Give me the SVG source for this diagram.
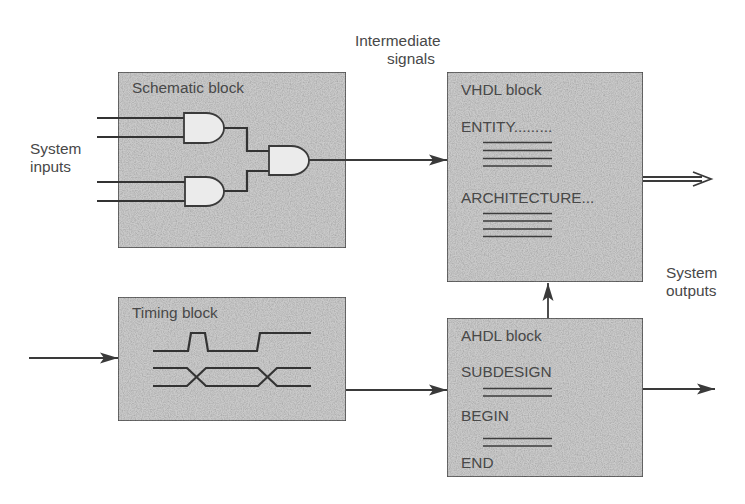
<svg xmlns="http://www.w3.org/2000/svg" width="745" height="504" viewBox="0 0 745 504">
<defs>
<filter id="grain" x="0" y="0" width="100%" height="100%"><feTurbulence type="fractalNoise" baseFrequency="0.85" numOctaves="2" seed="4"/><feColorMatrix type="matrix" values="0 0 0 0 0  0 0 0 0 0  0 0 0 0 0  0.6 0 0 0 -0.2"/><feComposite in2="SourceGraphic" operator="in" result="n"/><feMerge><feMergeNode in="SourceGraphic"/><feMergeNode in="n"/></feMerge></filter>
<marker id="ah" markerUnits="userSpaceOnUse" markerWidth="20" markerHeight="14" refX="18" refY="6" orient="auto"><path d="M0 0.500L18 6L0 11.500L4 6Z" fill="#3a3a3a"/></marker>
</defs>
<style>
text{font-family:"Liberation Sans",Arial,sans-serif;font-size:15.400px;fill:#484848}
.blk{fill:#cacaca;stroke:#505050;stroke-width:1.6;filter:url(#grain)}
.w{fill:none;stroke:#333;stroke-width:2.200}
.t{fill:none;stroke:#3d3d3d;stroke-width:1.500}
.g{fill:#ebebeb;stroke:#3a3a3a;stroke-width:1.800}
.c{fill:none;stroke:#3a3a3a;stroke-width:1.800}
</style>
<rect width="745" height="504" fill="#fff"/>
<g id="schematic">
<rect class="blk" x="118" y="72" width="228" height="176"/>
<text x="132" y="93">Schematic block</text>
<path class="w" d="M97 118H185M97 137H185M97 182H185M97 201H185M224 128H247V151H270M224 191H247V171H270"/>
<path class="g" d="M184 113H206A18 15 0 0 1 206 143H184Z"/>
<path class="g" d="M185 177H206A18 14.500 0 0 1 206 206H185Z"/>
<path class="g" d="M269 146H291A18 14.500 0 0 1 291 175H269Z"/>
</g>
<g id="timing">
<rect class="blk" x="118" y="297" width="228" height="124"/>
<text x="132" y="318">Timing block</text>
<path class="w" d="M153 351H188L191 333H205L208 351H257L260 333H311M153 368H187L206 386H258L277 368H311M153 386H187L206 368H258L277 386H311"/>
</g>
<g id="vhdl">
<rect class="blk" x="447" y="72" width="196" height="210"/>
<text x="461" y="95">VHDL block</text>
<text x="461" y="132">ENTITY.........</text>
<text x="461" y="203">ARCHITECTURE...</text>
<path class="t" d="M483 142.500H552M483 150.500H552M483 158.500H552M483 166H552M483 213.500H552M483 221H552M483 229H552M483 236.500H552"/>
</g>
<g id="ahdl">
<rect class="blk" x="447" y="318" width="196" height="159"/>
<text x="461" y="341">AHDL block</text>
<text x="461" y="377">SUBDESIGN</text>
<text x="461" y="421">BEGIN</text>
<text x="461" y="468">END</text>
<path class="t" d="M483 388.500H552M483 396H552M483 438.500H552M483 446H552"/>
</g>
<g id="labels">
<text x="355" y="46">Intermediate</text>
<text x="387" y="64">signals</text>
<text x="30" y="154">System</text>
<text x="30" y="172">inputs</text>
<text x="666" y="278">System</text>
<text x="666" y="296">outputs</text>
</g>
<g id="connectors">
<path class="c" d="M309 160H447" marker-end="url(#ah)"/>
<path class="c" d="M29 358H118" marker-end="url(#ah)"/>
<path class="c" d="M346 390H447" marker-end="url(#ah)"/>
<path class="c" d="M643 389H715" marker-end="url(#ah)"/>
<path class="c" d="M548 318V283" marker-end="url(#ah)"/>
<path fill="none" stroke="#3a3a3a" stroke-width="1.800" d="M643 177H702M643 181H702M693 172L711 179L693 186"/>
</g>
</svg>
